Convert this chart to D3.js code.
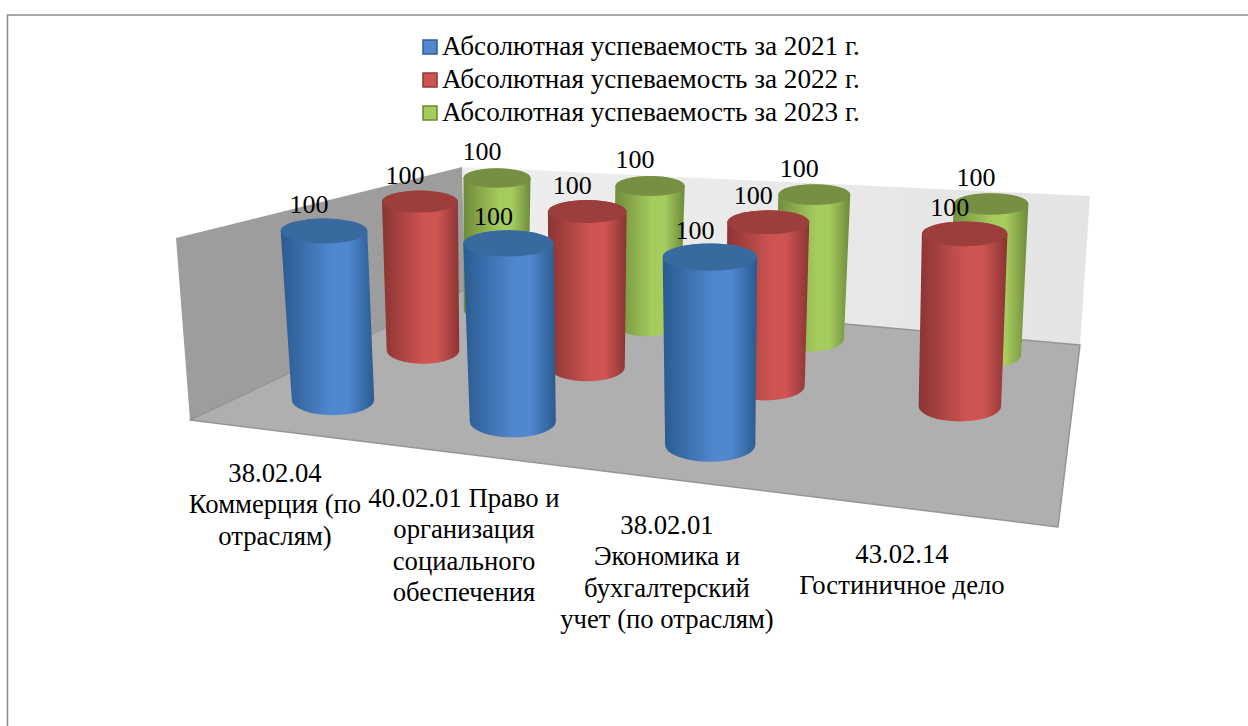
<!DOCTYPE html>
<html lang="ru"><head><meta charset="utf-8">
<script src="https://cdn.jsdelivr.net/npm/d3@7"></script>
<style>html,body{margin:0;padding:0;background:#fff;overflow:hidden}svg{display:block}</style>
</head><body><svg id="c" width="1248" height="726"></svg>
<script>
const categories = [
  ["38.02.04","Коммерция (по","отраслям)"],
  ["40.02.01 Право и","организация","социального","обеспечения"],
  ["38.02.01","Экономика и","бухгалтерский","учет (по отраслям)"],
  ["43.02.14","Гостиничное дело"]
];
const seriesNames = ["Абсолютная успеваемость за 2021 г.","Абсолютная успеваемость за 2022 г.","Абсолютная успеваемость за 2023 г."];
const values2021 = [100,100,100,null];
const values2022 = [100,100,100,100];
const values2023 = [100,100,100,100];
const seriesValues = [values2021,values2022,values2023];
const colours = [
  {edge:"#2a5a8f",mid:"#5088cf",top:"#38699f",line:"#2f5f96"},
  {edge:"#8a3433",mid:"#cf5553",top:"#9c3e3c",line:"#8f3a38"},
  {edge:"#6d8a3a",mid:"#a6cc5e",top:"#768f42",line:"#6c8638"}
];
const FONT="'Liberation Serif'";

// walls and floor of the box
const floorQ=[[190,420],[1058,527],[1080,345],[465,290]];
const ceilBack=[[462,167],[1090,196]], ceilLeft=[176,238];
// perspective planes of the cylinders' feet and of value 100
const footQ=[[333,400],[928,471],[985,355],[496,310]];
const headQ=[[324,231],[931,272],[991,204],[497,178]];
function homography(q){
  const [[x0,y0],[x1,y1],[x2,y2],[x3,y3]]=q;
  const dx1=x1-x2,dx2=x3-x2,sx=x0-x1+x2-x3,dy1=y1-y2,dy2=y3-y2,sy=y0-y1+y2-y3;
  const den=dx1*dy2-dx2*dy1, g=(sx*dy2-dx2*sy)/den, h=(dx1*sy-sx*dy1)/den;
  const a=x1-x0+g*x1,b=x3-x0+h*x3,d=y1-y0+g*y1,e=y3-y0+h*y3;
  return (u,v)=>{const w=g*u+h*v+1;return [(a*u+b*v+x0)/w,(d*u+e*v+y0)/w];};
}
const Hf=homography(footQ),Ht=homography(headQ);
const xCat=d3.scalePoint().domain(d3.range(categories.length)).range([0,1]);
const zSer=d3.scalePoint().domain(d3.range(seriesNames.length)).range([0,1]);
const yVal=d3.scaleLinear().domain([0,100]).range([0,1]);
const depthShrink=d3.scaleLinear().domain([0,1]).range([1,0.94]);
const svg=d3.select("#c");
const defs=svg.append("defs");
colours.forEach((c,i)=>{
  const g=defs.append("linearGradient").attr("id","g"+i);
  [[0,c.edge],[.55,c.mid],[.72,c.mid],[1,c.edge]].forEach(s=>g.append("stop").attr("offset",s[0]).attr("stop-color",s[1]));
});
const wg=defs.append("linearGradient").attr("id","back");
[[0,"#eeeeee"],[1,"#e4e4e4"]].forEach(s=>wg.append("stop").attr("offset",s[0]).attr("stop-color",s[1]));

svg.append("path").attr("d","M7.5,726V15H1248").attr("fill","none").attr("stroke","#8c8c8c").attr("stroke-width",1.5);
const poly=q=>"M"+q.map(p=>p.join(",")).join("L")+"Z";
svg.append("path").attr("d",poly([ceilBack[0],ceilBack[1],floorQ[2],floorQ[3]])).attr("fill","url(#back)");
svg.append("path").attr("d",poly([ceilLeft,ceilBack[0],floorQ[3],floorQ[0]])).attr("fill","#9d9d9d");
svg.append("path").attr("d",poly(floorQ)).attr("fill","#afafaf").attr("stroke","#959595").attr("stroke-width",1.5).attr("stroke-linejoin","round");

const marks=[];
seriesValues.forEach((vals,s)=>vals.forEach((v,c)=>{if(v!=null)marks.push({s,c,v});}));
marks.sort((a,b)=>b.s-a.s||a.c-b.c);
const labels=[];
const half=xCat.step()/2;
function radius(H,u,w,k){
  const local=H(u+half,w)[0]-H(u-half,w)[0];
  const row=(H(1+half,w)[0]-H(-half,w)[0])/categories.length;
  return (local+row)/2*k*depthShrink(w);
}
marks.forEach(m=>{
  const u=xCat(m.c), w=zSer(m.s);
  const b=Hf(u,w), tc=Ht(u,w), t=yVal(m.v);
  const top=[b[0]+(tc[0]-b[0])*t,b[1]+(tc[1]-b[1])*t];
  const rb=radius(Hf,u,w,0.222), rt=radius(Ht,u,w,0.228);
  const ryb=rb*0.37, ryt=rt*0.29;
  const col=colours[m.s];
  svg.append("path").attr("d",`M${top[0]-rt},${top[1]}L${b[0]-rb},${b[1]}A${rb},${ryb} 0 0 0 ${b[0]+rb},${b[1]}L${top[0]+rt},${top[1]}A${rt},${ryt} 0 0 0 ${top[0]-rt},${top[1]}Z`)
    .attr("fill",`url(#g${m.s})`);
  svg.append("ellipse").attr("cx",top[0]).attr("cy",top[1]).attr("rx",rt).attr("ry",ryt).attr("fill",col.top);
  labels.push({x:top[0]-15,y:top[1]-18,v:m.v});
});
svg.selectAll("text.lab").data(labels).join("text").attr("class","lab")
  .attr("x",d=>d.x).attr("y",d=>d.y).attr("text-anchor","middle").attr("font-size",26).style("font-family",FONT).text(d=>d.v);

const labelAnchor=d3.scalePoint().domain(d3.range(categories.length)).range([0,3]);
const labelX=d3.scaleLinear().domain([0,1,2,3]).range([275,464,667,902]);
const labelY=d3.scaleLinear().domain([0,1,2,3]).range([482,507,534,563]);
categories.forEach((lines,c)=>{
  const t=svg.append("text").attr("text-anchor","middle").attr("font-size",26.7).style("font-family",FONT);
  lines.forEach((l,i)=>t.append("tspan").attr("x",labelX(labelAnchor(c))).attr("y",labelY(labelAnchor(c))+i*31.3).text(l));
});
const ly=d3.scalePoint().domain(d3.range(3)).range([47,113]);
seriesNames.forEach((n,i)=>{
  const c=colours[i];
  svg.append("rect").attr("x",423).attr("y",ly(i)-7).attr("width",14).attr("height",14).attr("fill",c.mid).attr("stroke",c.line).attr("stroke-width",1.5);
  svg.append("text").attr("x",442).attr("y",ly(i)+8).attr("font-size",27.2).style("font-family",FONT).text(n);
});
</script></body></html>
